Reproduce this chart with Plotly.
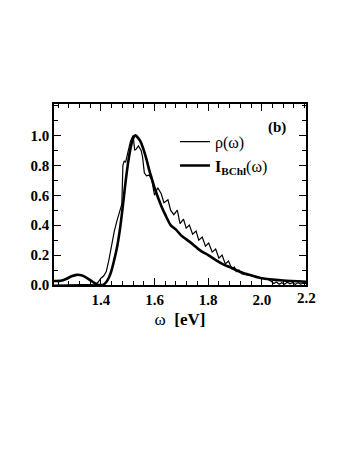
import plotly.graph_objects as go

# I_BChl(omega) -- thick smooth curve
omega_i = [1.225, 1.25, 1.27, 1.29, 1.31, 1.33, 1.35, 1.37, 1.385, 1.40, 1.41, 1.42, 1.43,
           1.44, 1.45, 1.46, 1.47, 1.48, 1.49, 1.50, 1.51, 1.52, 1.528, 1.54, 1.55, 1.56,
           1.57, 1.58, 1.59, 1.60, 1.626, 1.64, 1.66, 1.68, 1.70, 1.73, 1.76, 1.78, 1.80,
           1.83, 1.86, 1.88, 1.93, 1.96, 2.00, 2.08, 2.165]
i_bchl = [0.027, 0.028, 0.040, 0.058, 0.068, 0.064, 0.045, 0.020, 0.004, 0.0, 0.003, 0.02, 0.05,
          0.10, 0.17, 0.25, 0.36, 0.50, 0.66, 0.80, 0.91, 0.98, 1.0, 0.98, 0.95, 0.90,
          0.84, 0.77, 0.71, 0.65, 0.525, 0.47, 0.40, 0.37, 0.33, 0.29, 0.245, 0.22, 0.20,
          0.165, 0.135, 0.12, 0.08, 0.065, 0.045, 0.03, 0.022]

# rho(omega) -- thin, wiggly curve
omega_r = [1.225, 1.30, 1.37, 1.38, 1.39, 1.40, 1.41, 1.42, 1.43, 1.44, 1.45, 1.46, 1.47,
           1.478, 1.482, 1.487, 1.492, 1.50, 1.51, 1.52, 1.526, 1.532, 1.54, 1.55, 1.555,
           1.562, 1.57, 1.58, 1.59, 1.60, 1.612, 1.625, 1.635, 1.65, 1.66, 1.672, 1.685,
           1.695, 1.708, 1.718, 1.73, 1.742, 1.755, 1.765, 1.778, 1.79, 1.802, 1.815, 1.828,
           1.84, 1.852, 1.864, 1.876, 1.888, 1.898, 1.905, 1.915, 1.925, 1.95, 1.98, 2.00,
           2.02, 2.035, 2.045, 2.055, 2.065, 2.075, 2.085, 2.095, 2.105, 2.115, 2.125, 2.135,
           2.145, 2.155, 2.165]
rho = [0.0, 0.0, 0.0, 0.005, 0.02, 0.045, 0.06, 0.09, 0.17, 0.27, 0.36, 0.43, 0.49,
       0.54, 0.80, 0.83, 0.82, 0.88, 0.96, 1.0, 0.90, 0.91, 0.93, 0.90, 0.86,
       0.75, 0.73, 0.735, 0.70, 0.60, 0.65, 0.61, 0.55, 0.57, 0.50, 0.47, 0.50,
       0.41, 0.44, 0.38, 0.40, 0.34, 0.36, 0.30, 0.32, 0.26, 0.28, 0.22, 0.24,
       0.18, 0.20, 0.14, 0.16, 0.11, 0.12, 0.09, 0.10, 0.075, 0.065, 0.055, 0.048,
       0.04, 0.025, 0.01, 0.02, 0.005, 0.015, 0.005, 0.018, 0.008, 0.015, 0.004, 0.016,
       0.006, 0.012, 0.01]

x_ticks = [1.4, 1.6, 1.8, 2.0]
y_ticks = [0.0, 0.2, 0.4, 0.6, 0.8, 1.0]

serif = "Liberation Serif"

fig = go.Figure()
fig.add_trace(go.Scatter(x=omega_r, y=rho, mode="lines", name="ρ(ω)",
                         line=dict(color="black", width=1.2)))
fig.add_trace(go.Scatter(x=omega_i, y=i_bchl, mode="lines", name="<b>I</b><sub><b>BChl</b></sub>(ω)",
                         line=dict(color="black", width=2.6, shape="spline", smoothing=0.6)))

axis_common = dict(
    showline=True, linecolor="black", linewidth=1.5, mirror="allticks",
    ticks="inside", ticklen=7, tickwidth=1, tickcolor="black",
    showgrid=False, zeroline=False,
    tickfont=dict(family=serif, size=15, color="black", weight="bold"),
)

fig.update_xaxes(
    range=[1.225, 2.165], tickvals=x_ticks, ticktext=[f"{v:.1f}" for v in x_ticks],
    minor=dict(tick0=1.4, dtick=0.04, ticklen=4, ticks="inside", tickcolor="black"),
    title=dict(text="ω  <b>[eV]</b>", font=dict(family=serif, size=17, color="black"), standoff=6),
    **axis_common,
)
fig.update_yaxes(
    range=[0, 1.21], tickvals=y_ticks, ticktext=[f"{v:.1f}" for v in y_ticks],
    minor=dict(tick0=0, dtick=0.1, ticklen=4, ticks="inside", tickcolor="black"),
    **axis_common,
)

fig.add_annotation(x=1.0, y=0, xref="paper", yref="paper", text="<b>2.2</b>",
                   showarrow=False, xanchor="center", yanchor="top", yshift=-3,
                   font=dict(family=serif, size=15, color="black"))
fig.add_annotation(x=0.93, y=0.93, xref="paper", yref="paper", text="<b>(b)</b>",
                   showarrow=False, font=dict(family=serif, size=15, color="black"))

# page body adds an 8px offset, so margins are shifted to compensate
fig.update_layout(
    width=360, height=466,
    margin=dict(l=46, r=62, t=96, b=189),
    paper_bgcolor="white", plot_bgcolor="white",
    showlegend=True,
    legend=dict(x=0.48, y=0.885, xanchor="left", yanchor="top",
                bgcolor="rgba(0,0,0,0)", tracegroupgap=0, itemwidth=30,
                font=dict(family=serif, size=16, color="black")),
)

fig.write_html("out.html")
